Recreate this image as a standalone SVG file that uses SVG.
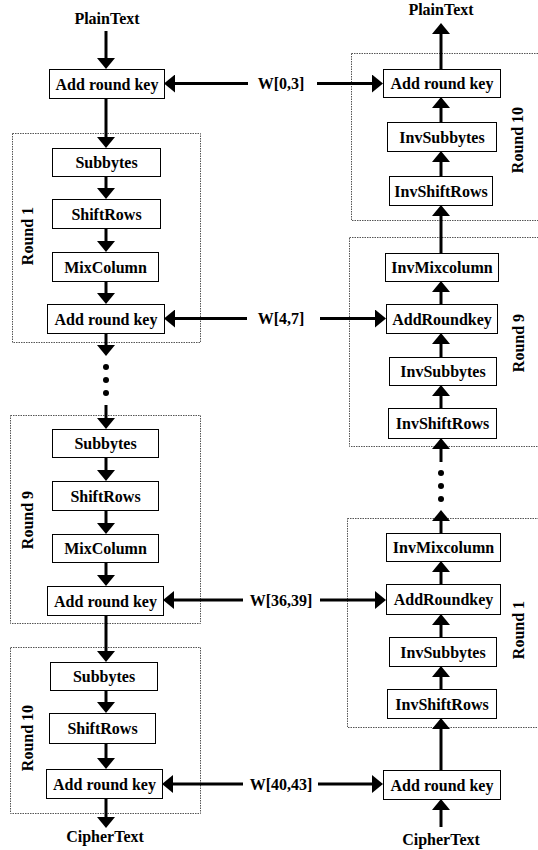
<svg xmlns="http://www.w3.org/2000/svg" width="538" height="850" viewBox="0 0 538 850">
<defs>
<style>
text{font-family:"Liberation Serif","Times New Roman",serif;font-weight:bold;font-size:16px;fill:#000;text-anchor:middle}
.box{fill:#fff;stroke:#000;stroke-width:1}
.round{fill:none;stroke:#555;stroke-width:1;stroke-dasharray:1.5 1}
.ar{fill:none;stroke:#000;stroke-width:3;marker-end:url(#ah)}
.dot{fill:#000}
</style>
<marker id="ah" markerWidth="11" markerHeight="18" refX="6" refY="9" orient="auto" markerUnits="userSpaceOnUse">
<path d="M0,0 L11,9 L0,18 z" fill="#000"/>
</marker>
</defs>
<rect width="538" height="850" fill="#fff"/>

<!-- round frames -->
<g id="frames">
<rect class="round" x="12.5" y="133.5" width="188" height="209"/>
<text transform="translate(33,236) rotate(-90)">Round 1</text>
<rect class="round" x="10.5" y="415.5" width="190" height="208"/>
<text transform="translate(33,520) rotate(-90)">Round 9</text>
<rect class="round" x="10.5" y="647.5" width="190" height="166"/>
<text transform="translate(33,738) rotate(-90)">Round 10</text>
<rect class="round" x="351.5" y="53.5" width="190" height="167"/>
<text transform="translate(523,140) rotate(-90)">Round 10</text>
<rect class="round" x="349.5" y="237.5" width="192" height="209"/>
<text transform="translate(524,343) rotate(-90)">Round 9</text>
<rect class="round" x="347.5" y="518.5" width="194" height="209"/>
<text transform="translate(524,630) rotate(-90)">Round 1</text>
</g>

<!-- connectors -->
<g id="connectors">
<!-- left column -->
<line class="ar" x1="106" y1="31" x2="106" y2="64"/>
<line class="ar" x1="106" y1="98" x2="106" y2="143"/>
<line class="ar" x1="106" y1="176" x2="106" y2="194"/>
<line class="ar" x1="106" y1="228" x2="106" y2="247"/>
<line class="ar" x1="106" y1="281" x2="106" y2="299"/>
<line class="ar" x1="106" y1="333" x2="106" y2="351"/>
<line class="ar" x1="106" y1="405" x2="106" y2="424"/>
<line class="ar" x1="106" y1="457" x2="106" y2="476"/>
<line class="ar" x1="106" y1="510" x2="106" y2="529"/>
<line class="ar" x1="106" y1="562" x2="106" y2="581"/>
<line class="ar" x1="106" y1="615" x2="106" y2="657"/>
<line class="ar" x1="106" y1="690" x2="106" y2="708"/>
<line class="ar" x1="106" y1="743" x2="106" y2="764"/>
<line class="ar" x1="106" y1="798" x2="106" y2="823"/>
<circle class="dot" cx="106" cy="367" r="3"/>
<circle class="dot" cx="106" cy="380" r="3"/>
<circle class="dot" cx="106" cy="393" r="3"/>
<!-- right column -->
<line class="ar" x1="441" y1="69" x2="441" y2="28"/>
<line class="ar" x1="441" y1="122" x2="441" y2="102"/>
<line class="ar" x1="441" y1="176" x2="441" y2="156"/>
<line class="ar" x1="441" y1="253" x2="441" y2="210"/>
<line class="ar" x1="441" y1="304" x2="441" y2="286"/>
<line class="ar" x1="441" y1="357" x2="441" y2="338"/>
<line class="ar" x1="441" y1="408" x2="441" y2="390"/>
<line class="ar" x1="441" y1="462" x2="441" y2="443"/>
<line class="ar" x1="441" y1="533" x2="441" y2="515"/>
<line class="ar" x1="441" y1="584" x2="441" y2="566"/>
<line class="ar" x1="441" y1="637" x2="441" y2="619"/>
<line class="ar" x1="441" y1="689" x2="441" y2="671"/>
<line class="ar" x1="441" y1="770" x2="441" y2="723"/>
<line class="ar" x1="441" y1="827" x2="441" y2="804"/>
<circle class="dot" cx="441" cy="473" r="3"/>
<circle class="dot" cx="441" cy="486" r="3"/>
<circle class="dot" cx="441" cy="499" r="3"/>
<!-- key arrows -->
<line class="ar" x1="248" y1="83.5" x2="169" y2="83.5"/>
<line class="ar" x1="317" y1="83.5" x2="378" y2="83.5"/>
<line class="ar" x1="247" y1="318.5" x2="169" y2="318.5"/>
<line class="ar" x1="320" y1="318.5" x2="381" y2="318.5"/>
<line class="ar" x1="243" y1="600" x2="168" y2="600"/>
<line class="ar" x1="320" y1="600" x2="381" y2="600"/>
<line class="ar" x1="243" y1="784" x2="167" y2="784"/>
<line class="ar" x1="318" y1="784" x2="378" y2="784"/>
</g>

<!-- labels -->
<g id="io-labels">
<text x="107" y="24">PlainText</text>
<text x="441" y="15">PlainText</text>
<text x="105" y="842">CipherText</text>
<text x="441" y="845">CipherText</text>
</g>
<g id="keys">
<text x="281" y="89">W[0,3]</text>
<text x="281" y="324">W[4,7]</text>
<text x="281" y="606">W[36,39]</text>
<text x="281" y="790">W[40,43]</text>
</g>

<!-- left nodes -->
<g id="enc-ark0"><rect class="box" x="49.5" y="69.5" width="115" height="29"/><text x="107" y="89.5">Add round key</text></g>
<g id="enc-r1-sub"><rect class="box" x="52.5" y="148.5" width="108" height="28"/><text x="106.5" y="168">Subbytes</text></g>
<g id="enc-r1-shift"><rect class="box" x="52.5" y="199.5" width="108" height="29"/><text x="106.5" y="219.5">ShiftRows</text></g>
<g id="enc-r1-mix"><rect class="box" x="52.5" y="252.5" width="106" height="29"/><text x="105.5" y="272.5">MixColumn</text></g>
<g id="enc-r1-ark"><rect class="box" x="47.5" y="304.5" width="117" height="29"/><text x="106" y="324.5">Add round key</text></g>
<g id="enc-r9-sub"><rect class="box" x="52.5" y="429.5" width="106" height="28"/><text x="105.5" y="449">Subbytes</text></g>
<g id="enc-r9-shift"><rect class="box" x="52.5" y="481.5" width="106" height="29"/><text x="105.5" y="501.5">ShiftRows</text></g>
<g id="enc-r9-mix"><rect class="box" x="52.5" y="534.5" width="106" height="28"/><text x="105.5" y="554">MixColumn</text></g>
<g id="enc-r9-ark"><rect class="box" x="47.5" y="586.5" width="116" height="29"/><text x="105.5" y="606.5">Add round key</text></g>
<g id="enc-r10-sub"><rect class="box" x="50.5" y="662.5" width="107" height="28"/><text x="104" y="682">Subbytes</text></g>
<g id="enc-r10-shift"><rect class="box" x="49.5" y="713.5" width="106" height="30"/><text x="102.5" y="734">ShiftRows</text></g>
<g id="enc-r10-ark"><rect class="box" x="46.5" y="769.5" width="116" height="29"/><text x="104.5" y="789.5">Add round key</text></g>

<!-- right nodes -->
<g id="dec-ark0"><rect class="box" x="383.5" y="69.5" width="117" height="28"/><text x="442" y="89">Add round key</text></g>
<g id="dec-r10-isub"><rect class="box" x="387.5" y="122.5" width="109" height="29"/><text x="442" y="142.5">InvSubbytes</text></g>
<g id="dec-r10-ishift"><rect class="box" x="389.5" y="176.5" width="103" height="29"/><text x="441" y="196.5">InvShiftRows</text></g>
<g id="dec-r9-imix"><rect class="box" x="385.5" y="253.5" width="113" height="28"/><text x="442" y="273">InvMixcolumn</text></g>
<g id="dec-r9-ark"><rect class="box" x="386.5" y="304.5" width="111" height="29"/><text x="442" y="324.5">AddRoundkey</text></g>
<g id="dec-r9-isub"><rect class="box" x="389.5" y="357.5" width="107" height="28"/><text x="443" y="377">InvSubbytes</text></g>
<g id="dec-r9-ishift"><rect class="box" x="388.5" y="408.5" width="108" height="30"/><text x="442.5" y="429">InvShiftRows</text></g>
<g id="dec-r1-imix"><rect class="box" x="386.5" y="533.5" width="114" height="28"/><text x="443.5" y="553">InvMixcolumn</text></g>
<g id="dec-r1-ark"><rect class="box" x="386.5" y="584.5" width="114" height="30"/><text x="443.5" y="605">AddRoundkey</text></g>
<g id="dec-r1-isub"><rect class="box" x="389.5" y="637.5" width="107" height="29"/><text x="443" y="657.5">InvSubbytes</text></g>
<g id="dec-r1-ishift"><rect class="box" x="387.5" y="689.5" width="109" height="29"/><text x="442" y="709.5">InvShiftRows</text></g>
<g id="dec-ark-last"><rect class="box" x="383.5" y="770.5" width="117" height="29"/><text x="442" y="790.5">Add round key</text></g>
</svg>
